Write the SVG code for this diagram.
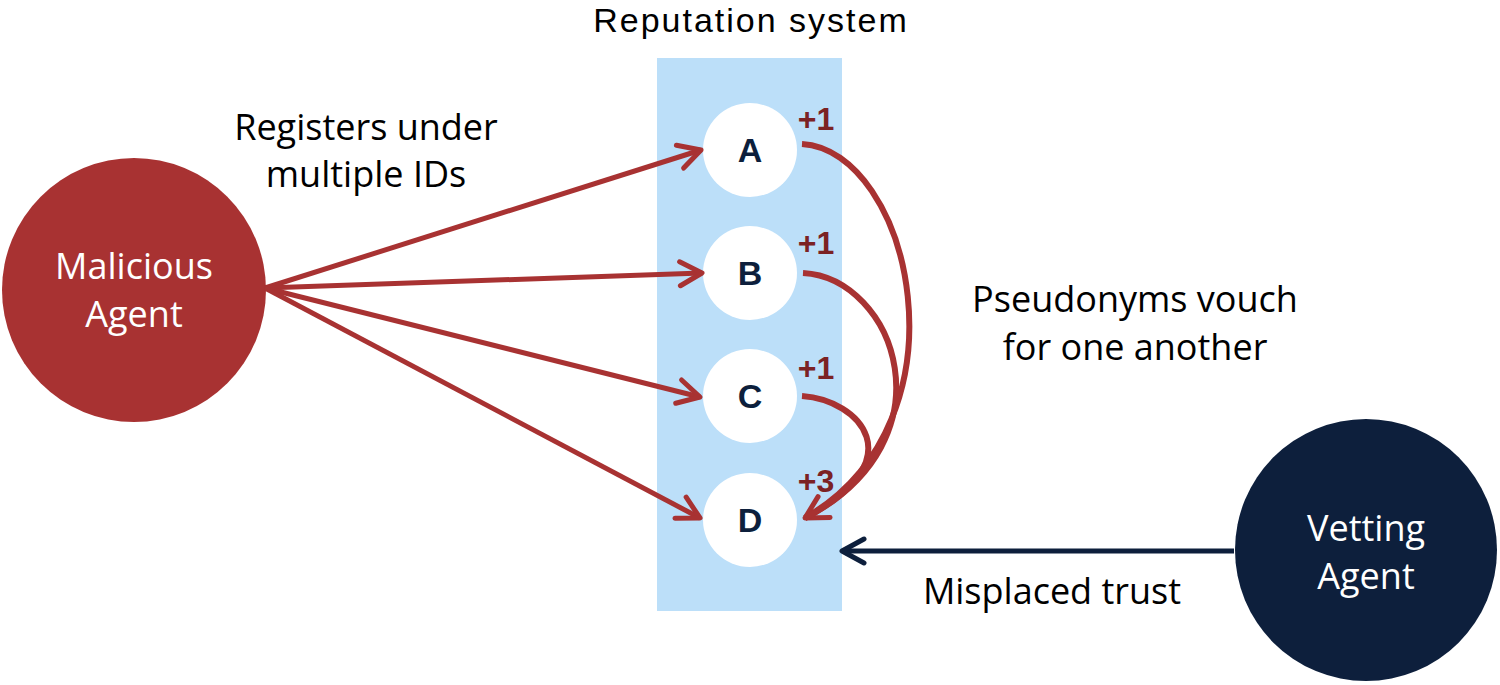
<svg xmlns="http://www.w3.org/2000/svg" width="1500" height="685" viewBox="0 0 1500 685">
<defs>
<style>
.lbl{font-family:"Open Sans","Liberation Sans",Arial,sans-serif;font-size:36px;fill:#000;text-anchor:middle}
.ttl{font-family:"Liberation Sans",Arial,sans-serif;font-size:34px;letter-spacing:2px;fill:#000;text-anchor:middle}
.agent{font-family:"Open Sans","Liberation Sans",Arial,sans-serif;font-size:36px;fill:#fff;text-anchor:middle}
.id{font-family:"Liberation Sans",Arial,sans-serif;font-size:34px;font-weight:bold;fill:#0d1f3c;text-anchor:middle}
.sc{font-family:"Liberation Sans",Arial,sans-serif;font-size:32px;font-weight:bold;fill:#7b2224;text-anchor:middle}
.red{stroke:#a83232;stroke-width:5;fill:none}
.curve{stroke:#a83232;stroke-width:6;fill:none}
.navy{stroke:#0d1f3c;stroke-width:5;fill:none}
</style>
<marker id="ar" markerUnits="userSpaceOnUse" viewBox="0 0 30 30" refX="27" refY="15" markerWidth="30" markerHeight="30" orient="auto">
<path d="M5,3 L27,15 L5,27" fill="none" stroke="#a83232" stroke-width="5" stroke-linecap="round" stroke-linejoin="round"/>
</marker>
<marker id="an" markerUnits="userSpaceOnUse" viewBox="0 0 30 30" refX="27" refY="15" markerWidth="30" markerHeight="30" orient="auto">
<path d="M5,3 L27,15 L5,27" fill="none" stroke="#0d1f3c" stroke-width="5" stroke-linecap="round" stroke-linejoin="round"/>
</marker>
</defs>
<rect width="1500" height="685" fill="#fff"/>
<g id="reputation-system">
<rect x="657" y="58" width="185" height="553" fill="#bcdff9"/>
<text class="ttl" x="751" y="32">Reputation system</text>
</g>
<g id="malicious-agent">
<circle cx="134" cy="290" r="132" fill="#a83232"/>
<text class="agent" x="134" y="279">Malicious</text>
<text class="agent" x="134" y="327">Agent</text>
</g>
<g id="vetting-agent">
<circle cx="1366" cy="550" r="131" fill="#0d1f3c"/>
<text class="agent" x="1366" y="541">Vetting</text>
<text class="agent" x="1366" y="589">Agent</text>
</g>
<g id="node-a"><circle cx="750" cy="150" r="47" fill="#fff"/><text class="id" x="750" y="162">A</text><text class="sc" x="816" y="130">+1</text></g>
<g id="node-b"><circle cx="750" cy="273" r="47" fill="#fff"/><text class="id" x="750" y="285">B</text><text class="sc" x="816" y="254">+1</text></g>
<g id="node-c"><circle cx="750" cy="396" r="47" fill="#fff"/><text class="id" x="750" y="408">C</text><text class="sc" x="816" y="379">+1</text></g>
<g id="node-d"><circle cx="750" cy="520" r="47" fill="#fff"/><text class="id" x="750" y="532">D</text><text class="sc" x="816" y="492">+3</text></g>
<g id="connectors">
<line class="red" x1="265" y1="288" x2="701" y2="150" marker-end="url(#ar)"/>
<line class="red" x1="265" y1="288" x2="702" y2="273" marker-end="url(#ar)"/>
<line class="red" x1="265" y1="288" x2="700" y2="397" marker-end="url(#ar)"/>
<line class="red" x1="265" y1="288" x2="700" y2="518" marker-end="url(#ar)"/>
<path class="curve" d="M802,144 C910,150 975,420 805,518" marker-end="url(#ar)"/>
<path class="curve" d="M803,273 C895,278 955,440 805,518"/>
<path class="curve" d="M802,396 C860,400 915,460 805,518"/>
<line class="navy" x1="1234" y1="551" x2="842" y2="551" marker-end="url(#an)"/>
</g>
<g id="labels">
<text class="lbl" x="366" y="140">Registers under</text>
<text class="lbl" x="366" y="187">multiple IDs</text>
<text class="lbl" x="1135" y="312">Pseudonyms vouch</text>
<text class="lbl" x="1135" y="360">for one another</text>
<text class="lbl" x="1052" y="604">Misplaced trust</text>
</g>
</svg>
